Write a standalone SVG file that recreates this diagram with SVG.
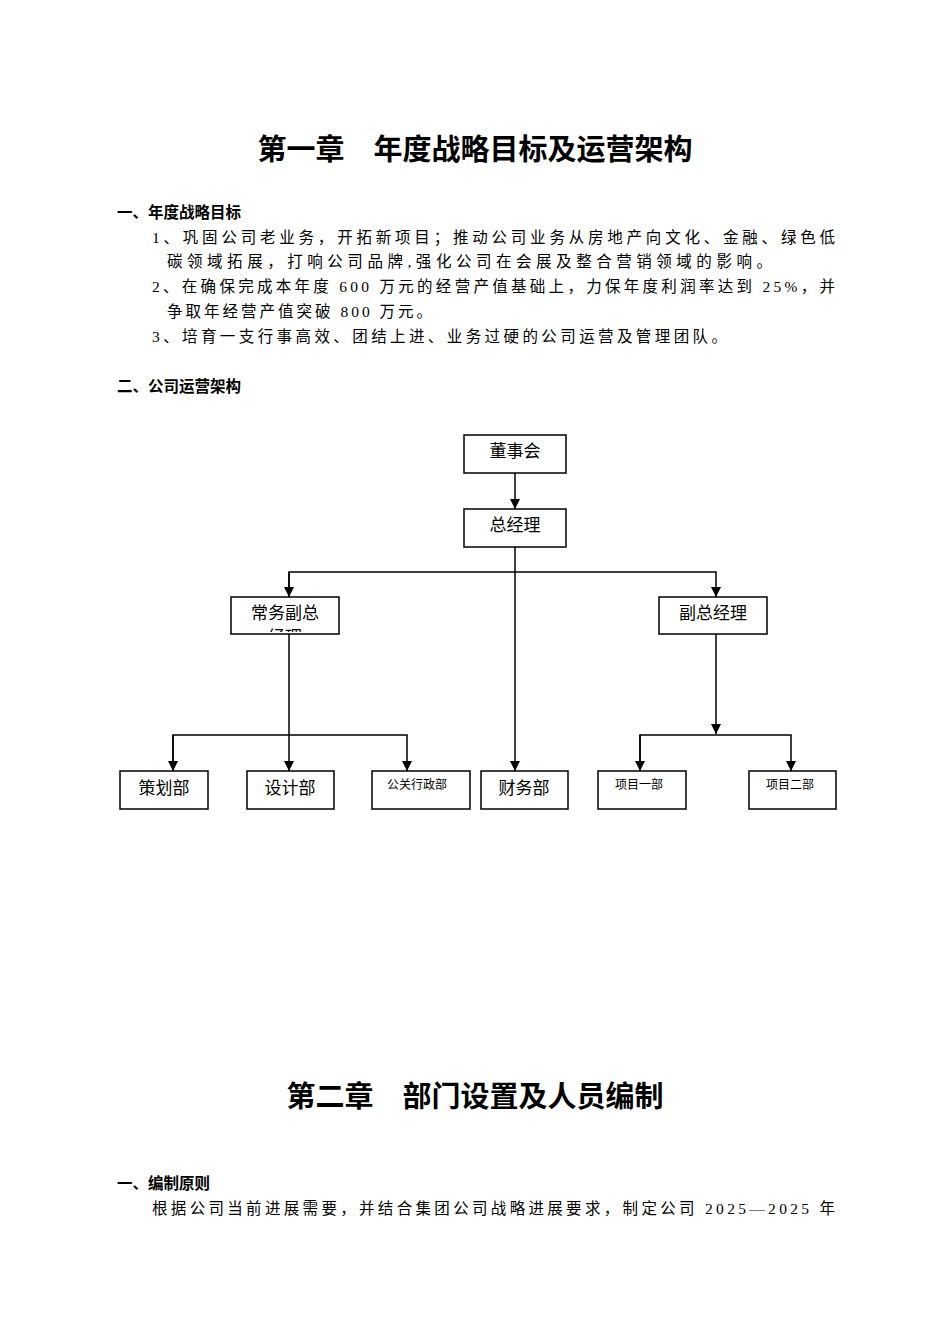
<svg xmlns="http://www.w3.org/2000/svg" width="950" height="1344" viewBox="0 0 950 1344">
<style>
.t{font-family:"Liberation Serif","Noto Sans CJK SC",serif;fill:#000}
.h{font-family:"Noto Sans CJK SC",sans-serif;font-weight:bold;fill:#000}
.b{font-size:15.5px}
.box{fill:#fff;stroke:#000;stroke-width:1.5}
.n{font-family:"Noto Sans CJK SC",sans-serif;font-size:17px;text-anchor:middle;fill:#000}
.s{font-size:12px}
.c{stroke:#000;stroke-width:1.5;fill:none}
</style>
<defs>
<marker id="a" markerWidth="10" markerHeight="10" refX="10" refY="5" orient="auto" markerUnits="userSpaceOnUse" viewBox="0 0 10 10"><path d="M0,0 L10,5 L0,10 z" fill="#000"/></marker>
<clipPath id="cp"><rect x="231" y="597" width="108" height="35"/></clipPath>
</defs>
<rect width="950" height="1344" fill="#fff"/>
<text class="h" x="475" y="160" font-size="29" text-anchor="middle">第一章　年度战略目标及运营架构</text>
<text class="h" x="117" y="218" font-size="15.5">一、年度战略目标</text>
<text class="t b" x="152" y="243" textLength="683" lengthAdjust="spacing">1、巩固公司老业务，开拓新项目；推动公司业务从房地产向文化、金融、绿色低</text>
<text class="t b" x="167" y="267" textLength="605" lengthAdjust="spacing">碳领域拓展，打响公司品牌,强化公司在会展及整合营销领域的影响。</text>
<text class="t b" x="152" y="292" textLength="683" lengthAdjust="spacing">2、在确保完成本年度 600 万元的经营产值基础上，力保年度利润率达到 25%，并</text>
<text class="t b" x="167" y="317" textLength="265" lengthAdjust="spacing">争取年经营产值突破 800 万元。</text>
<text class="t b" x="152" y="342" textLength="575" lengthAdjust="spacing">3、培育一支行事高效、团结上进、业务过硬的公司运营及管理团队。</text>
<text class="h" x="117" y="392" font-size="15.5">二、公司运营架构</text>
<g id="connectors">
<path class="c" d="M515,473 V509" marker-end="url(#a)"/>
<path class="c" d="M289,597 V572 H716 V597" marker-end="url(#a)"/>
<path class="c" d="M289,572 V597" marker-end="url(#a)"/>
<path class="c" d="M515,547 V771" marker-end="url(#a)"/>
<path class="c" d="M289,634 V771" marker-end="url(#a)"/>
<path class="c" d="M173,771 V735 H407 V771" marker-end="url(#a)"/>
<path class="c" d="M173,735 V771" marker-end="url(#a)"/>
<path class="c" d="M716,634 V734" marker-end="url(#a)"/>
<path class="c" d="M640,771 V735 H791 V771" marker-end="url(#a)"/>
<path class="c" d="M640,735 V771" marker-end="url(#a)"/>
</g>
<g id="n1"><rect class="box" x="464" y="435" width="102" height="38"/><text class="n" x="515" y="457">董事会</text></g>
<g id="n2"><rect class="box" x="464" y="509" width="102" height="38"/><text class="n" x="515" y="531">总经理</text></g>
<g id="n3"><rect class="box" x="231" y="597" width="108" height="37"/><text class="n" x="285" y="619">常务副总</text><text class="n" x="285" y="643" clip-path="url(#cp)">经理</text></g>
<g id="n4"><rect class="box" x="659" y="597" width="108" height="37"/><text class="n" x="713" y="619">副总经理</text></g>
<g id="n5"><rect class="box" x="120" y="771" width="88" height="38"/><text class="n" x="164" y="794">策划部</text></g>
<g id="n6"><rect class="box" x="247" y="771" width="87" height="38"/><text class="n" x="290" y="794">设计部</text></g>
<g id="n7"><rect class="box" x="372" y="771" width="98" height="38"/><text class="n s" x="417" y="789">公关行政部</text></g>
<g id="n8"><rect class="box" x="481" y="771" width="87" height="38"/><text class="n" x="524" y="794">财务部</text></g>
<g id="n9"><rect class="box" x="598" y="771" width="88" height="38"/><text class="n s" x="639" y="789">项目一部</text></g>
<g id="n10"><rect class="box" x="749" y="771" width="87" height="38"/><text class="n s" x="790" y="789">项目二部</text></g>
<text class="h" x="475" y="1107" font-size="29" text-anchor="middle">第二章　部门设置及人员编制</text>
<text class="h" x="117" y="1189" font-size="15.5">一、编制原则</text>
<text class="t b" x="152" y="1214" textLength="683" lengthAdjust="spacing">根据公司当前进展需要，并结合集团公司战略进展要求，制定公司 2025—2025 年</text>
</svg>
